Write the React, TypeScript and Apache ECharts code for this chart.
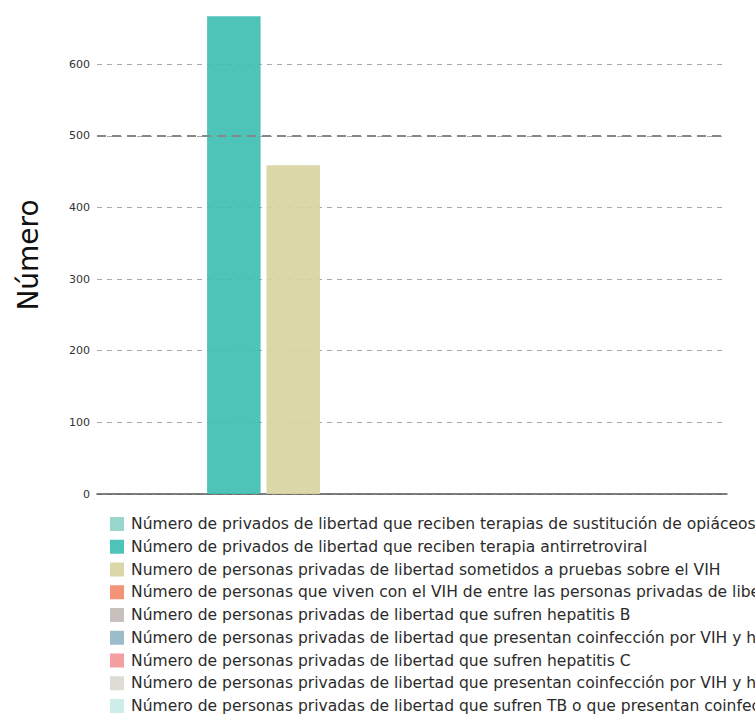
import React, { useEffect, useRef } from "react";
import * as echarts from "echarts";

const categories = [""];
const seriesNames = [
  "Número de privados de libertad que reciben terapias de sustitución de opiáceos",
  "Número de privados de libertad que reciben terapia antirretroviral",
  "Numero de personas privadas de libertad sometidos a pruebas sobre el VIH",
  "Número de personas que viven con el VIH de entre las personas privadas de libertad",
  "Número de personas privadas de libertad que sufren hepatitis B",
  "Número de personas privadas de libertad que presentan coinfección por VIH y hepatitis B",
  "Número de personas privadas de libertad que sufren hepatitis C",
  "Número de personas privadas de libertad que presentan coinfección por VIH y hepatitis C",
  "Número de personas privadas de libertad que sufren TB o que presentan coinfección por VIH y TB",
];
const seriesValues: (number | null)[][] = [
  [null],
  [667],
  [459],
  [null],
  [null],
  [null],
  [null],
  [null],
  [null],
];
const seriesColors = [
  "#8fd4ca",
  "#3fbeb1",
  "#d8d4a2",
  "#f28a6c",
  "#c3bbb7",
  "#95b6c6",
  "#f4979a",
  "#dcd9d3",
  "#c8ece6",
];
const yTicks = { min: 0, max: 700, interval: 100 };
const referenceValue = 500;
const yTitle = "Número";

// the chart box is lifted by 8px so its top tick line (700) falls just above the page
const LIFT = 8;

export default function App() {
  const ref = useRef<HTMLDivElement>(null);
  useEffect(() => {
    if (!ref.current) return;
    const chart = echarts.init(ref.current, undefined, { renderer: "svg" });
    const font = "DejaVu Sans";
    chart.setOption({
      animation: false,
      textStyle: { fontFamily: font },
      grid: { left: 97, right: 28, top: 0.5, bottom: 221, containLabel: false },
      legend: {
        orient: "vertical",
        left: 110,
        top: 516 + LIFT,
        padding: 0,
        itemWidth: 14,
        itemHeight: 14,
        itemGap: 6.75,
        icon: "rect",
        textStyle: {
          fontFamily: font,
          fontSize: 15.55,
          color: "#2b2b2b",
          padding: [0, 0, 0, 2],
        },
        data: seriesNames,
      },
      xAxis: {
        type: "category",
        data: categories,
        axisTick: { show: false },
        axisLabel: { show: false },
        axisLine: { show: true, lineStyle: { color: "#555", width: 1.5 } },
      },
      yAxis: {
        type: "value",
        min: yTicks.min,
        max: yTicks.max,
        interval: yTicks.interval,
        axisLine: { show: false },
        axisTick: { show: false },
        axisLabel: {
          fontFamily: font,
          fontSize: 11,
          color: "#333",
          margin: 7,
          formatter: (v: number) => (v >= yTicks.max ? "" : String(v)),
        },
        splitLine: {
          show: true,
          lineStyle: { color: "#aaa", width: 1, type: [5, 5] },
        },
      },
      graphic: [
        {
          type: "text",
          x: 28,
          y: 255 + LIFT,
          rotation: Math.PI / 2,
          style: {
            text: yTitle,
            fontFamily: font,
            fontSize: 28,
            fill: "#111",
            textAlign: "center",
            textVerticalAlign: "middle",
          },
        },
      ],
      series: seriesNames.map((name, i) => ({
        name,
        type: "bar",
        data: seriesValues[i],
        barWidth: 53.5,
        barGap: "11%",
        itemStyle: { color: seriesColors[i], opacity: 0.92 },
        ...(i === 1
          ? {
              markLine: {
                silent: true,
                symbol: "none",
                label: { show: false },
                lineStyle: { color: "#888", width: 2, type: [9, 6] },
                data: [{ yAxis: referenceValue }],
              },
            }
          : {}),
      })),
    });
    return () => chart.dispose();
  }, []);
  return (
    <div
      ref={ref}
      style={{ position: "absolute", left: 0, top: -LIFT, width: 755, height: 715 + LIFT }}
    />
  );
}
